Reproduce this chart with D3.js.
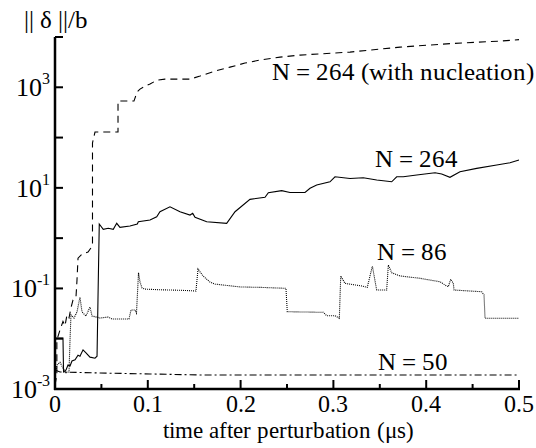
<!DOCTYPE html>
<html>
<head>
<meta charset="utf-8">
<script src="https://cdn.jsdelivr.net/npm/d3@7"></script>
<style>
  @font-face { font-family: "ChartSerif"; src: local("Liberation Serif"), local("LiberationSerif"), local("Times New Roman"); }
  body { margin: 0; background: #fff; }
  svg text { font-family: "ChartSerif", "Liberation Serif", "Times New Roman", serif !important; }
</style>
</head>
<body>
<script>
var width = 536,
    height = 448;

// series: [time (us), ||delta||/b]
var nucleation = [[0,1.2e-3],[0.002,1.9e-3],[0.002,9.4e-3],[0.0054,1.5e-2],[0.0086,2.2e-2],[0.0108,1.8e-2],
  [0.0129,3.0e-2],[0.0151,2.6e-2],[0.0172,4.1e-2],[0.0194,5.9e-2],[0.0226,6.7e-2],[0.0237,0.147],[0.0248,0.40],
  [0.0291,0.48],[0.0356,0.53],[0.0388,0.64],[0.0404,0.73],[0.0404,78],[0.0431,129],[0.0679,129],[0.0679,532],
  [0.0851,532],[0.0884,803],[0.0916,920],[0.097,1057],[0.1024,1160],[0.11,1390],[0.1185,1455],[0.1455,1455],
  [0.1563,1670],[0.1724,2100],[0.1886,2520],[0.2047,3030],[0.2209,3480],[0.2425,3980],[0.264,4370],
  [0.3179,5010],[0.3718,6300],[0.4256,7390],[0.4795,8280],[0.5,8880]];

var n264 = [[0,1.03e-2],[0.0086,1.03e-2],[0.0092,2.18e-3],[0.0119,2.39e-3],[0.014,3.0e-3],[0.0162,2.86e-3],
  [0.0183,3.6e-3],[0.0216,3.8e-3],[0.0248,4.7e-3],[0.0269,4.5e-3],[0.0302,6.0e-3],[0.0334,5.2e-3],[0.0377,4.3e-3],
  [0.0431,4.1e-3],[0.0453,4.5e-3],[0.0463,5.9e-2],[0.0477,1.91],[0.052,1.50],[0.0574,1.57],[0.0628,1.50],
  [0.0665,1.97],[0.07,1.64],[0.0808,1.74],[0.0887,1.91],[0.0898,2.12],[0.1024,2.29],[0.1096,2.66],[0.1131,3.35],
  [0.1239,4.21],[0.1347,3.35],[0.1455,2.88],[0.1484,3.11],[0.1509,2.59],[0.1635,2.12],[0.185,1.97],[0.194,3.35],
  [0.2101,5.9],[0.2263,6.5],[0.2299,8.0],[0.2443,8.8],[0.2532,8.1],[0.2694,8.1],[0.2748,9.8],[0.282,11.4],
  [0.2963,13.2],[0.3017,16.6],[0.3179,15.4],[0.3322,15.9],[0.3467,14.3],[0.3628,13.2],[0.3682,16.6],[0.3753,16.6],
  [0.3898,18.0],[0.4095,20.0],[0.4167,18.8],[0.4256,16.2],[0.4364,20.9],[0.4544,24.4],[0.476,28.4],[0.4903,31.6],
  [0.5,35.7]];

var n86 = [[0,1.9e-3],[0.0022,3.0e-3],[0.0054,3.4e-3],[0.0086,2.6e-3],[0.0119,2.1e-3],[0.0151,2.2e-3],
  [0.0162,9.4e-3],[0.0172,2.96e-2],[0.0205,2.58e-2],[0.0237,3.4e-2],[0.0269,6.75e-2],[0.0291,3.4e-2],
  [0.0334,2.83e-2],[0.0377,4.27e-2],[0.0399,2.83e-2],[0.0485,2.58e-2],[0.0571,2.7e-2],[0.0614,2.46e-2],
  [0.0797,2.46e-2],[0.0819,3.72e-2],[0.0862,3.72e-2],[0.0878,3.24e-2],[0.09,0.205],[0.0916,0.134],[0.0938,0.102],
  [0.097,9.7e-2],[0.1131,9.4e-2],[0.1347,9.2e-2],[0.1519,8.9e-2],[0.1541,0.243],[0.1595,0.177],[0.167,0.134],
  [0.1724,0.122],[0.1994,0.107],[0.2209,0.105],[0.2489,0.1005],[0.2503,3.44e-2],[0.2891,3.35e-2],[0.2928,2.87e-2],
  [0.3017,2.87e-2],[0.3064,2.55e-2],[0.3079,0.177],[0.3125,0.126],[0.3305,0.112],[0.3365,0.105],[0.342,0.279],
  [0.3466,9.3e-2],[0.3574,9.3e-2],[0.3592,0.292],[0.3628,0.205],[0.3718,0.177],[0.3933,0.159],[0.4149,0.136],
  [0.4203,0.117],[0.4238,0.108],[0.4264,0.152],[0.4292,0.126],[0.43,9.3e-2],[0.4598,8.6e-2],[0.4623,7.4e-2],
  [0.4634,2.55e-2],[0.5,2.55e-2]];

var n50 = [[0,2.39e-3],[0.0054,2.18e-3],[0.0485,2.08e-3],[0.1024,1.99e-3],[0.1563,1.9e-3],[0.5,1.9e-3]];

var xTicks = [0, 0.1, 0.2, 0.3, 0.4, 0.5],
    xMinorTicks = [0.05, 0.15, 0.25, 0.35, 0.45],
    yExponents = [-3, -2, -1, 0, 1, 2, 3, 4],
    yLabelExponents = [-3, -1, 1, 3];

var curveLabels = [
  {text: "N = 264 (with nucleation)", t: 0.2338, v: 1390},
  {text: "N = 264", t: 0.3448, v: 25.9},
  {text: "N = 86", t: 0.3467, v: 0.367},
  {text: "N = 50", t: 0.348, v: 2.4e-3}
];

var svg = d3.select("body")
    .append("svg")
    .attr("width", width)
    .attr("height", height);

svg.append("rect").attr("width", width).attr("height", height).attr("fill", "#fff");

var x = d3.scaleLinear().domain([0, 0.5]).range([55, 519]);
var y = d3.scaleLog().domain([1e-3, 1e4]).range([389, 37]);

var line = d3.line()
    .x(function(d) { return x(d[0]); })
    .y(function(d) { return y(d[1]); });

// curves
var series = [
  {data: nucleation, dash: "7,5"},
  {data: n264, dash: null},
  {data: n86, dash: "1,1"},
  {data: n50, dash: "7,3,2,3"}
];

svg.selectAll(".curve")
    .data(series)
    .enter().append("path")
      .attr("class", "curve")
      .attr("d", function(d) { return line(d.data); })
      .attr("fill", "none")
      .attr("stroke", "#000")
      .attr("stroke-width", 1.1)
      .attr("stroke-dasharray", function(d) { return d.dash; });

// axes lines
svg.append("line")
    .attr("x1", x(0)).attr("x2", x(0))
    .attr("y1", y(1e4)).attr("y2", y(1e-3) + 1)
    .attr("stroke", "#000").attr("stroke-width", 2.5);
svg.append("line")
    .attr("x1", x(0) - 1).attr("x2", x(0.5) + 1)
    .attr("y1", y(1e-3)).attr("y2", y(1e-3))
    .attr("stroke", "#000").attr("stroke-width", 2.5);

// y ticks (inward)
svg.selectAll(".ytick")
    .data(yExponents)
    .enter().append("line")
      .attr("class", "ytick")
      .attr("x1", x(0)).attr("x2", x(0) + 8)
      .attr("y1", function(d) { return y(Math.pow(10, d)); })
      .attr("y2", function(d) { return y(Math.pow(10, d)); })
      .attr("stroke", "#000").attr("stroke-width", 2);

var ylab = svg.selectAll(".ylab")
    .data(yLabelExponents)
    .enter().append("text")
      .attr("class", "ylab")
      .attr("x", 50)
      .attr("y", function(d) { return y(Math.pow(10, d)) + 9; })
      .attr("text-anchor", "end")
      .attr("font-size", 26);
ylab.append("tspan").text("10");
ylab.append("tspan")
    .attr("dy", -12)
    .attr("font-size", 16)
    .text(function(d) { return d; });

// x ticks (inward)
svg.selectAll(".xtick")
    .data(xTicks.concat(xMinorTicks))
    .enter().append("line")
      .attr("class", "xtick")
      .attr("x1", function(d) { return x(d); })
      .attr("x2", function(d) { return x(d); })
      .attr("y1", y(1e-3))
      .attr("y2", function(d) { return y(1e-3) - (xTicks.indexOf(d) >= 0 ? 9 : 5); })
      .attr("stroke", "#000").attr("stroke-width", 2);

svg.selectAll(".xlab")
    .data(xTicks)
    .enter().append("text")
      .attr("class", "xlab")
      .attr("x", function(d) { return x(d); })
      .attr("y", 412)
      .attr("text-anchor", "middle")
      .attr("font-size", 24)
      .text(function(d) { return d === 0 ? "0" : d3.format(".1f")(d); });

// axis titles
svg.append("text")
    .attr("x", 288).attr("y", 438)
    .attr("text-anchor", "middle")
    .attr("font-size", 23)
    .text("time after perturbation (\u03bcs)");

svg.append("text")
    .attr("x", 24).attr("y", 28)
    .attr("font-size", 25)
    .text("|| \u03b4 ||/b");

// curve labels
svg.selectAll(".clab")
    .data(curveLabels)
    .enter().append("text")
      .attr("class", "clab")
      .attr("x", function(d) { return x(d.t); })
      .attr("y", function(d) { return y(d.v); })
      .attr("font-size", 24.5)
      .text(function(d) { return d.text; });
</script>
</body>
</html>
